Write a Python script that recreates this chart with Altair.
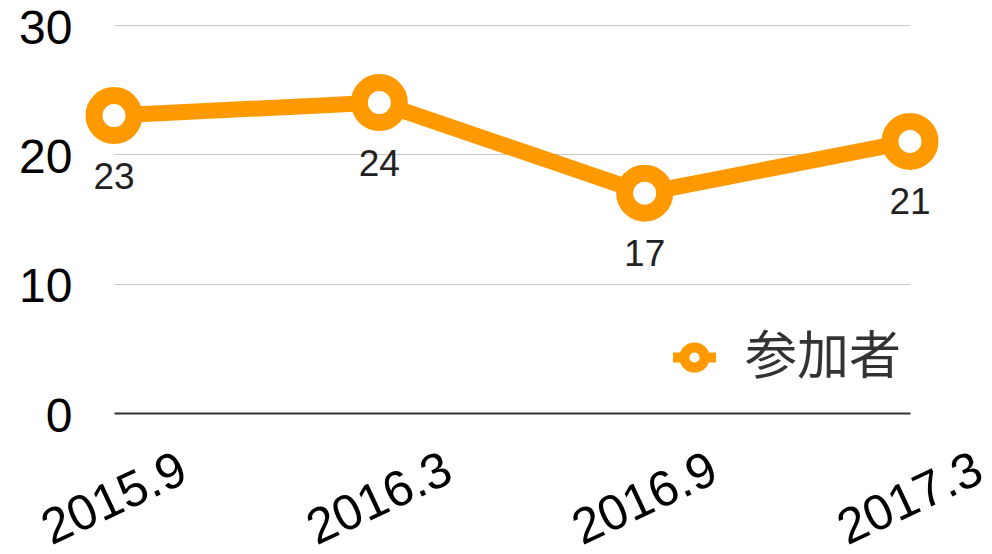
import altair as alt
import pandas as pd

# ---- data ----
periods = ["2015.9", "2016.3", "2016.9", "2017.3"]
participants = [23, 24, 17, 21]
series_name = "参加者"
y_ticks = [0, 10, 20, 30]

df = pd.DataFrame({
    "period": periods,
    "value": participants,
    "series": [series_name] * len(periods),
})

ORANGE = "#FF9900"
NUM_FONT = "Liberation Sans"
CJK_FONT = "Noto Sans CJK JP"

legend_symbol = ("M -1 0 L -0.47 0 M 0.47 0 L 1 0 "
                 "M 0.47 0 A 0.47 0.47 0 1 1 -0.47 0 A 0.47 0.47 0 1 1 0.47 0 Z")

x_enc = alt.X(
    "period:N", sort=periods,
    scale=alt.Scale(type="point", padding=0),
    axis=alt.Axis(
        title=None, labelAngle=-25, labelAlign="center", labelBaseline="middle",
        labelPadding=86, labelFontSize=50, labelFont=NUM_FONT, labelColor="#000",
        ticks=False, tickSize=0, domain=False, grid=False,
        labelFlush=False, labelOverlap=False, labelBound=False,
    ),
)
y_enc = alt.Y(
    "value:Q",
    scale=alt.Scale(domain=[0, 30], nice=False, zero=True),
    axis=alt.Axis(
        title=None, values=y_ticks, labelFontSize=48, labelFont=NUM_FONT,
        labelColor="#000", labelPadding=42, labelOffset=4, ticks=False, tickSize=0,
        domain=False, grid=True, labelFlush=False, labelBound=False,
        gridColor=alt.condition("datum.value === 0", alt.value("#333333"), alt.value("#c8c8c8")),
        gridWidth=alt.condition("datum.value === 0", alt.value(2), alt.value(1)),
    ),
)

base = alt.Chart(df)

line = base.mark_line(color=ORANGE, strokeWidth=16).encode(x=x_enc, y=y_enc)

points = base.mark_point(
    shape="circle", filled=True, fill="white", size=1600, strokeWidth=17, opacity=1
).encode(
    x=x_enc, y=y_enc,
    stroke=alt.Stroke(
        "series:N",
        scale=alt.Scale(range=[ORANGE]),
        legend=alt.Legend(
            title=None, orient="none", legendX=554, legendY=306, padding=0,
            symbolType=legend_symbol, symbolSize=1849, symbolStrokeWidth=10,
            symbolFillColor="white", symbolStrokeColor=ORANGE, symbolOpacity=1,
            labelFont=CJK_FONT, labelFontSize=52, labelColor="#333",
            labelOffset=24,
        ),
    ),
)

labels = base.mark_text(
    dy=62, fontSize=37, font=NUM_FONT, color="#222", baseline="middle", align="center"
).encode(x=x_enc, y=y_enc, text="value:Q")

chart = alt.layer(line, points, labels).properties(
    width=796, height=388,
    autosize=alt.AutoSizeParams(type="none"),
    padding={"left": 114, "top": 25, "right": 82, "bottom": 141},
).configure_view(stroke=None)

chart.save("out.html", embed_options={"renderer": "svg", "actions": False})
